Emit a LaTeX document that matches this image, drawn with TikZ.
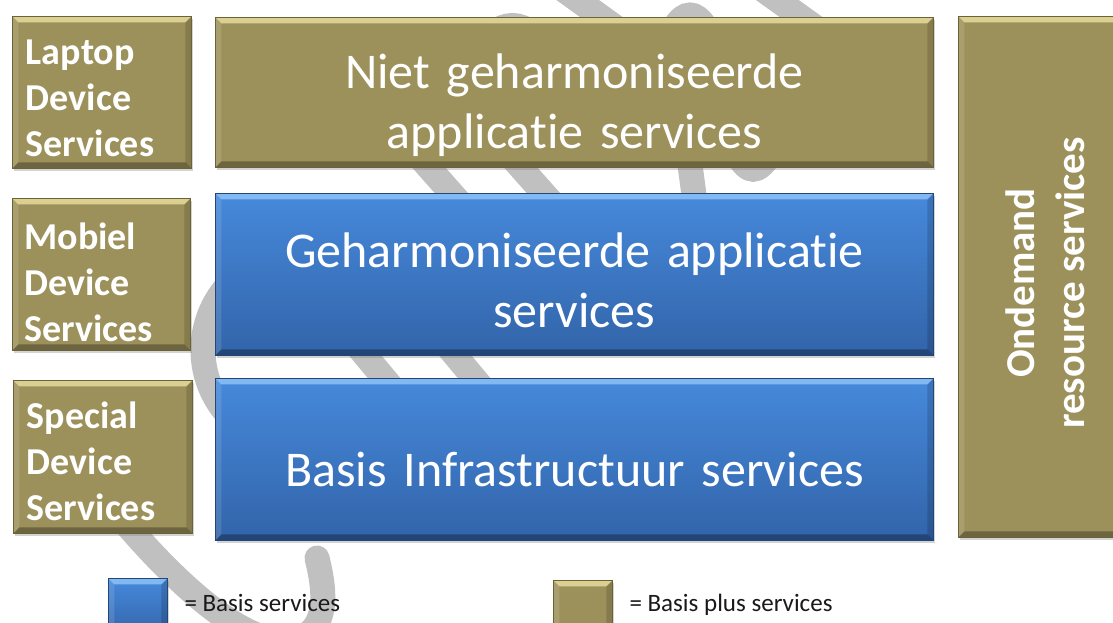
\documentclass[tikz,border=0pt]{standalone}
\usepackage{fontspec}
\setmainfont{Carlito}[Ligatures=NoCommon]
\usetikzlibrary{shadows}

\definecolor{plusolive}{HTML}{9D915B}
\definecolor{plusolivedark}{HTML}{6B6237}
\definecolor{plusolivelight}{HTML}{E6DB9C}
\definecolor{basisblue}{HTML}{4689DB}
\definecolor{basisbluedark}{HTML}{3264A9}
\definecolor{basisbluelight}{HTML}{8DC2F7}
\definecolor{coilgray}{HTML}{C0C0C0}

% bevel edges inside a box
\newcommand{\boxbevel}[1]{%
  \path (path picture bounding box.north west) coordinate (p1)
        (path picture bounding box.north east) coordinate (p2)
        (path picture bounding box.south east) coordinate (p3)
        (path picture bounding box.south west) coordinate (p4);
  \fill[#1,opacity=.85] (p1) -- (p2) -- ([shift={(-6pt,-6pt)}]p2) -- ([shift={(6pt,-6pt)}]p1) -- cycle;
  \fill[white,opacity=.12] (p1) -- ([shift={(6pt,-6pt)}]p1) -- ([shift={(6pt,6pt)}]p4) -- (p4) -- cycle;
  \fill[black,opacity=.15] (p2) -- ([shift={(-6pt,-6pt)}]p2) -- ([shift={(-6pt,6pt)}]p3) -- (p3) -- cycle;
  \fill[black,opacity=.3] (p4) -- ([shift={(6pt,6pt)}]p4) -- ([shift={(-6pt,6pt)}]p3) -- (p3) -- cycle;
}

\tikzset{
  plusbox/.style={rectangle, anchor=north west, draw=plusolivedark, line width=0.8pt,
    fill=plusolive, path picture={\boxbevel{plusolivelight}},
    drop shadow={shadow xshift=1.5pt, shadow yshift=-3pt, opacity=0.35}},
  basisbox/.style={rectangle, anchor=north west, draw=basisbluedark!70!black, line width=0.8pt,
    top color=basisblue, bottom color=basisbluedark,
    path picture={\boxbevel{basisbluelight}},
    drop shadow={shadow xshift=1.5pt, shadow yshift=-3pt, opacity=0.35}},
  devbox/.style={plusbox, minimum width=179pt, minimum height=152pt},
  devtxt/.style={text=white, text width=152pt, align=left, font=\fontsize{38}{46}\selectfont\bfseries},
  layer/.style={minimum width=718pt, minimum height=162pt},
  layertxt/.style={text=white, text width=690pt, align=center, font=\fontsize{50}{60}\selectfont},
  coil/.style={coilgray, line width=25pt, line cap=round},
  legendtxt/.style={anchor=west, font=\fontsize{25}{30}\selectfont, text=black!90}
}

\begin{document}
\begin{tikzpicture}[x=1pt,y=-1pt]
\useasboundingbox (0,0) rectangle (1113,623);
\clip (0,0) rectangle (1113,623);

% grey coil behind the boxes
\draw[coil] (550,-20) -- (640,45);
\draw[coil] (755,-16) -- (840,45);
\draw[coil] (470,60) .. controls (500,14) and (525,14) .. (555,60);
\draw[coil] (660,60) .. controls (680,0) and (700,0) .. (720,60);
\draw[coil] (369,100) -- (546,300);
\draw[coil] (461,100) -- (638,300);
\draw[coil] (684,120) -- (700,240);
\draw[coil] (720,110) .. controls (745,189) and (760,189) .. (790,110);
\draw[coil] (319,300) -- (444,450);
\draw[coil] (409,300) -- (534,450);
\draw[coil] (300,350) ++(125:97) arc[start angle=125, end angle=235, radius=97];
\draw[coil] (110,505) .. controls (180,590) and (250,650) .. (295,640)
                      .. controls (330,630) and (325,590) .. (317,558);

% device services
\node[devbox] (laptop) at (12,16) {};
\node[devtxt] (laptoptxt) at ([yshift=-6pt]laptop.center) {Laptop\\Device\\Services};
\node[devbox, minimum width=178pt] (mobiel) at (12,198) {};
\node[devtxt] (mobieltxt) at ([shift={(-1pt,-8pt)}]mobiel.center) {Mobiel\\Device\\Services};
\node[devbox, minimum height=153pt] (special) at (13,380) {};
\node[devtxt] (specialtxt) at ([yshift=-4pt]special.center) {Special\\Device\\Services};

% layers
\node[plusbox, layer, minimum height=150pt] (niet) at (215,17) {};
\node[layertxt] (niettxt) at ([yshift=-13pt]niet.center) {Niet geharmoniseerde\\applicatie services};
\node[basisbox, layer] (geharm) at (215,193) {};
\node[layertxt] (geharmtxt) at ([yshift=-6pt]geharm.center) {Geharmoniseerde applicatie\\services};
\node[basisbox, layer] (basis) at (215,378) {};
\node[layertxt] (basistxt) at ([yshift=-10pt]basis.center) {Basis Infrastructuur services};

% ondemand column
\node[plusbox, minimum width=174pt, minimum height=521pt] (ondemand) at (958,16) {};
\node[rotate=90, align=center, text=white, font=\fontsize{41}{50}\selectfont\bfseries]
  (ondemandtxt) at (1045,283) {Ondemand\\resource services};

% legend
\node[basisbox, minimum width=59pt, minimum height=59pt] (legbasis) at (108,578) {};
\node[legendtxt] (legbasistxt) at (181,603) {= Basis services};
\node[plusbox, minimum width=59pt, minimum height=59pt] (legplus) at (553,580) {};
\node[legendtxt] (legplustxt) at (626,605) {= Basis plus services};
\end{tikzpicture}
\end{document}
